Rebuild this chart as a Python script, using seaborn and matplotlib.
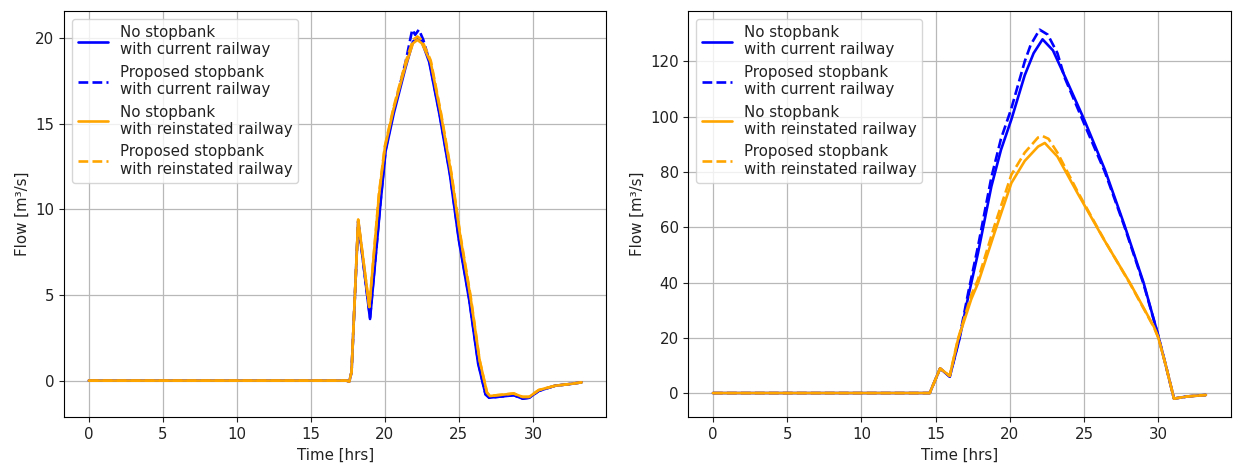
import numpy as np
import pandas as pd
import seaborn as sns
from matplotlib import pyplot as plt

# left panel
left_t_blue = [0, 17.4, 17.6, 17.75, 18.2, 19.0, 19.7, 20.05, 20.6, 21.4, 21.9, 22.2, 22.5, 23.0, 23.7, 24.4,
               25.0, 25.7, 26.3, 26.8, 27.05, 27.6, 28.2, 28.7, 29.3, 29.75, 30.4, 31.5, 32.5, 33.3]
left_blue = [0, 0, -0.05, 0.5, 9.3, 3.6, 10.3, 13.4, 15.6, 18.3, 19.8, 20.0, 19.8, 18.6, 15.5, 12.0,
             8.2, 4.7, 1.0, -0.8, -1.0, -0.95, -0.9, -0.85, -1.05, -1.0, -0.6, -0.3, -0.2, -0.1]
left_t_blue_dash = [0, 17.4, 17.6, 17.75, 18.2, 19.0, 19.7, 20.05, 20.6, 21.4, 21.85, 22.05, 22.3, 22.6,
                    23.0, 23.7, 24.4, 25.0, 25.7, 26.3, 26.8, 27.05, 27.6, 28.2, 28.7, 29.3, 29.75, 30.4,
                    31.5, 32.5, 33.3]
left_blue_dash = [0, 0, -0.05, 0.5, 9.3, 3.7, 10.4, 13.5, 15.8, 18.6, 20.5, 20.2, 20.5, 19.9,
                  18.7, 15.6, 12.1, 8.3, 4.8, 1.1, -0.8, -1.0, -0.95, -0.9, -0.85, -1.05, -1.0, -0.6,
                  -0.3, -0.2, -0.1]
left_t_orange = [0, 17.4, 17.6, 17.75, 18.2, 18.95, 19.6, 20.0, 20.6, 21.4, 21.9, 22.2, 22.5, 23.1, 23.8,
                 24.5, 25.1, 25.8, 26.4, 26.9, 27.1, 27.6, 28.2, 28.7, 29.3, 29.75, 30.4, 31.5, 32.5, 33.3]
left_orange = [0, 0, -0.05, 0.5, 9.4, 4.3, 10.8, 13.6, 15.9, 18.4, 19.7, 19.9, 19.7, 18.6, 15.5,
               12.0, 8.4, 4.8, 1.2, -0.7, -0.9, -0.85, -0.8, -0.75, -0.95, -0.95, -0.55, -0.3, -0.2, -0.1]
left_orange_dash = [0, 0, -0.05, 0.5, 9.4, 4.3, 10.9, 13.7, 16.0, 18.6, 19.9, 20.1, 19.9, 18.7, 15.6,
                    12.1, 8.5, 4.9, 1.2, -0.7, -0.9, -0.85, -0.8, -0.75, -0.95, -0.95, -0.55, -0.3, -0.2, -0.1]

# right panel
right_t_blue = [0, 14.6, 15.3, 15.95, 16.6, 17.2, 17.85, 18.75, 19.4, 20.1, 21.0, 21.6, 22.2, 22.9, 23.7,
                25.0, 26.4, 27.7, 29.0, 29.95, 30.5, 31.05, 32.0, 33.2]
right_blue = [0, 0, 8.9, 5.9, 19.5, 35, 50.6, 74.7, 88, 99, 115, 123, 128, 124, 114.6,
              99, 80.8, 61, 40, 21.6, 10, -2.0, -1.2, -0.7]
right_t_blue_dash = [0, 14.6, 15.3, 15.95, 16.6, 17.2, 17.85, 18.75, 19.4, 20.1, 21.0, 21.4, 22.0, 22.55,
                     23.2, 23.7, 25.0, 26.4, 27.7, 29.0, 29.95, 30.5, 31.05, 32.0, 33.2]
right_blue_dash = [0, 0, 8.9, 6.0, 20, 36.5, 53, 78, 92, 103, 120, 126, 131.5, 129.7,
                   123, 114, 97.5, 80, 60.5, 39.5, 21.6, 10, -2.0, -1.2, -0.7]
right_t_orange = [0, 14.6, 15.3, 15.95, 16.5, 17.4, 17.85, 18.96, 20.1, 21.0, 21.9, 22.35, 23.2, 24.55,
                  26.35, 28.1, 29.7, 30.0, 30.5, 31.05, 32.0, 33.2]
right_orange = [0, 0, 8.9, 6.2, 19.2, 34, 39.7, 57.9, 76, 84, 89.2, 90.5, 85.6, 72.4,
                55.4, 39.7, 24, 20, 10, -2.0, -1.2, -0.7]
right_t_orange_dash = [0, 14.6, 15.3, 15.95, 16.5, 17.4, 17.85, 18.96, 20.1, 21.0, 21.9, 22.2, 22.6, 23.2,
                       24.55, 26.35, 28.1, 29.7, 30.0, 30.5, 31.05, 32.0, 33.2]
right_orange_dash = [0, 0, 8.9, 6.2, 19.5, 35.5, 41, 60.5, 79, 87, 92.5, 93, 92, 87,
                     73, 55.5, 39.5, 23.8, 20, 10, -2.0, -1.2, -0.7]

labels = [
    "No stopbank\nwith current railway",
    "Proposed stopbank\nwith current railway",
    "No stopbank\nwith reinstated railway",
    "Proposed stopbank\nwith reinstated railway",
]


def plot_panel(ax, series):
    styles = [("blue", "-"), ("blue", "--"), ("orange", "-"), ("orange", "--")]
    for (t, q), (color, ls), label in zip(series, styles, labels):
        df = pd.DataFrame({"time": t, "flow": q})
        sns.lineplot(data=df, x="time", y="flow", ax=ax, color=color, linestyle=ls,
                     linewidth=1.9, label=label, estimator=None, sort=False)
    ax.grid(True, color="#b8b8b8", linewidth=0.9)
    ax.set_xlabel("Time [hrs]")
    ax.set_ylabel("Flow [m³/s]")
    ax.set_xticks([0, 5, 10, 15, 20, 25, 30])
    ax.legend(loc="upper left")


sns.set_style("ticks")
plt.rcParams["font.family"] = ["DejaVu Sans"]
plt.rcParams["font.size"] = 10.8
plt.rcParams["xtick.labelsize"] = 10.8
plt.rcParams["ytick.labelsize"] = 10.8
plt.rcParams["axes.labelsize"] = 10.8
plt.rcParams["legend.fontsize"] = 10.8
plt.rcParams["text.color"] = "#222222"
plt.rcParams["axes.labelcolor"] = "#222222"
plt.rcParams["xtick.color"] = "#222222"
plt.rcParams["ytick.color"] = "#222222"
plt.rcParams["axes.edgecolor"] = "black"

fig, axes = plt.subplots(1, 2, figsize=(12.33, 4.67), dpi=100)
plot_panel(axes[0], [(left_t_blue, left_blue), (left_t_blue_dash, left_blue_dash),
                     (left_t_orange, left_orange), (left_t_orange, left_orange_dash)])
plot_panel(axes[1], [(right_t_blue, right_blue), (right_t_blue_dash, right_blue_dash),
                     (right_t_orange, right_orange), (right_t_orange_dash, right_orange_dash)])
axes[0].set_yticks([0, 5, 10, 15, 20])
axes[1].set_yticks([0, 20, 40, 60, 80, 100, 120])

fig.subplots_adjust(left=0.052, right=0.998, bottom=0.107, top=0.976, wspace=0.151)
fig.savefig("out.png")
